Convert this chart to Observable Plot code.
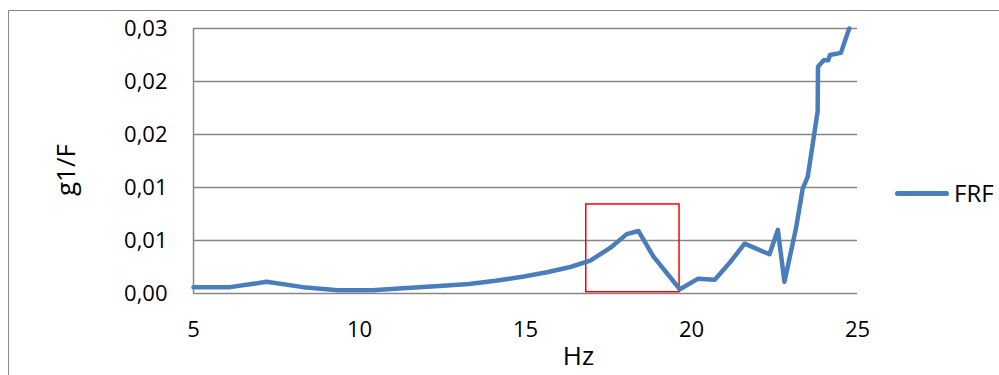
<!DOCTYPE html>
<html><head><meta charset="utf-8">
<script src="https://cdn.jsdelivr.net/npm/d3@7"></script>
<script src="https://cdn.jsdelivr.net/npm/@observablehq/plot@0.6"></script>
<style>
html,body{margin:0;padding:0;background:#fff;}
#wrap{position:relative;width:999px;height:375px;overflow:hidden;font-family:"Open Sans",sans-serif;}
#border{position:absolute;left:8px;top:10px;width:1300px;height:700px;border-top:1px solid #8a8a8a;border-left:1px solid #8a8a8a;}
#chart{position:absolute;left:0;top:0;}
#legend{position:absolute;left:895px;top:193px;transform:translateY(-50%);display:flex;align-items:center;}
#legend .sw{width:54px;height:5px;border-radius:3px;background:#4a7ebb;margin-right:5px;}
#legend .lb{font-size:24px;color:#000;line-height:1;}
</style></head>
<body><div id="wrap"><div id="border"></div><div id="chart"></div><div id="legend"></div></div>
<script>
const freqHz = [5, 6.1, 7.2, 8.3, 9.35, 10.4, 11.3, 12.4, 13.3, 14.1, 14.95, 15.65, 16.35, 16.95, 17.55, 18.05, 18.4, 18.85, 19.65, 20.2, 20.7, 21.15, 21.6, 22.35, 22.6, 22.8, 23.15, 23.35, 23.5, 23.7, 23.8, 23.81, 23.98, 24.12, 24.17, 24.5, 24.75];
const frf = [0.0006, 0.0006, 0.0011, 0.0006, 0.0003, 0.0003, 0.0005, 0.0007, 0.0009, 0.0012, 0.0016, 0.0020, 0.0025, 0.0031, 0.0043, 0.0056, 0.0059, 0.0035, 0.0004, 0.0014, 0.0013, 0.0029, 0.0047, 0.0037, 0.0060, 0.0011, 0.0062, 0.0099, 0.0110, 0.0151, 0.0172, 0.0214, 0.0220, 0.0220, 0.0225, 0.0227, 0.0250];
const yTicks = [0, 0.005, 0.01, 0.015, 0.02, 0.025];
const yTickLabels = ["0,00", "0,01", "0,01", "0,02", "0,02", "0,03"];
const xTicks = [5, 10, 15, 20, 25];
const seriesName = "FRF";
const xTitle = "Hz";
const yTitle = "g1/F";
const highlightX = [16.83, 19.64];
const highlightY = [0.00012, 0.0084];

const data = freqHz.map((f, i) => ({f, v: frf[i]}));
const box = [{x1: highlightX[0], x2: highlightX[1], y1: highlightY[0], y2: highlightY[1]}];

const chart = Plot.plot({
  width: 999,
  height: 375,
  marginLeft: 193,
  marginRight: 142,
  marginTop: 28,
  marginBottom: 82,
  style: {background: "transparent", fontFamily: "'Open Sans', sans-serif", color: "#000", overflow: "visible"},
  x: {domain: [xTicks[0], xTicks[xTicks.length - 1]]},
  y: {domain: [yTicks[0], yTicks[yTicks.length - 1]]},
  marks: [
    Plot.gridY(yTicks, {stroke: "#868686", strokeOpacity: 1, strokeWidth: 1.5}),
    Plot.ruleX([xTicks[0]], {stroke: "#868686", strokeWidth: 1.5}),
    Plot.axisY(yTicks, {tickSize: 0, tickPadding: 26, fontSize: 22, label: null,
      tickFormat: d => yTickLabels[yTicks.indexOf(d)]}),
    Plot.axisX(xTicks, {tickSize: 0, tickPadding: 28, fontSize: 22, label: null, tickFormat: d => String(d)}),
    Plot.text([xTitle], {frameAnchor: "bottom", text: d => d, dx: 53, dy: 63, lineAnchor: "middle", fontSize: 26}),
    Plot.text([yTitle], {frameAnchor: "left", text: d => d, dx: -127, dy: 35, rotate: -90, lineAnchor: "middle", fontSize: 26}),
    Plot.rect(box, {x1: "x1", x2: "x2", y1: "y1", y2: "y2", fill: "none", stroke: "#ff0000", strokeWidth: 1.5}),
    Plot.line(data, {x: "f", y: "v", stroke: "#4a7ebb", strokeWidth: 4.5, strokeLinejoin: "round", strokeLinecap: "round"})
  ]
});
document.getElementById("chart").appendChild(chart);
const lg = document.getElementById("legend");
lg.innerHTML = `<div class="sw"></div><div class="lb">${seriesName}</div>`;
</script>
</body></html>
